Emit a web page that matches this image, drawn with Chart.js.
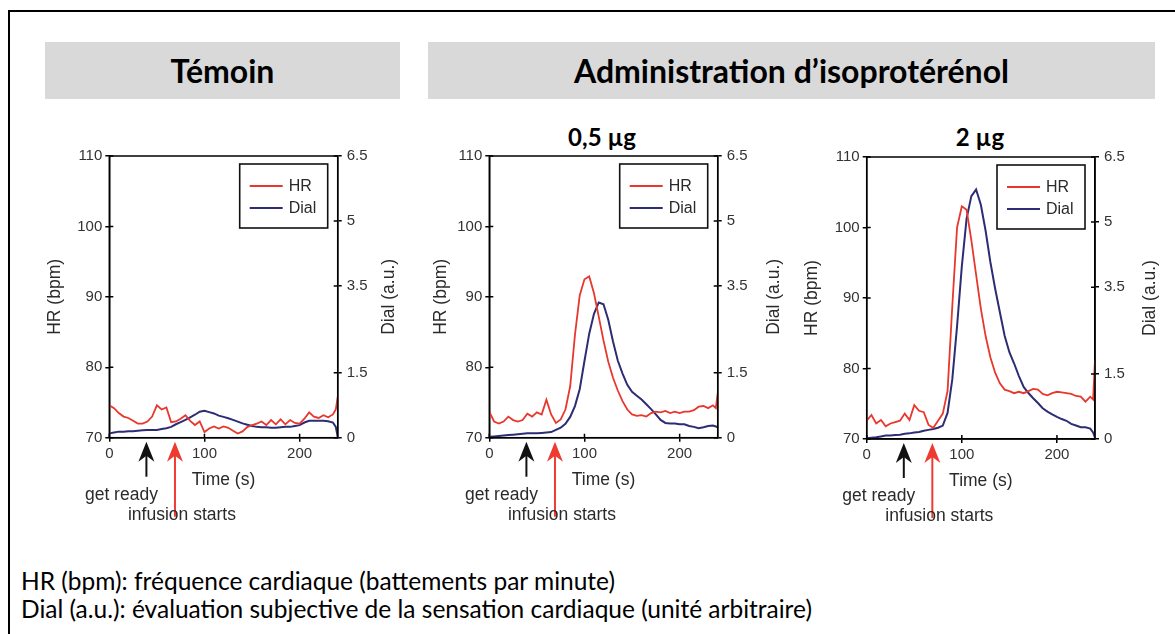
<!DOCTYPE html>
<html><head><meta charset="utf-8">
<script src="https://cdn.jsdelivr.net/npm/chart.js@4.4.1/dist/chart.umd.min.js"></script>
<style>
html,body{margin:0;padding:0;background:#fff;}
body{width:1175px;height:634px;overflow:hidden;position:relative;font-family:'Liberation Sans',Arial,sans-serif;}
#frame{position:absolute;left:8px;top:10px;width:1220px;height:700px;border-left:2px solid #000;border-top:2px solid #000;}
.banner{position:absolute;top:42px;height:57px;background:#d9d9d9;font-family:Lato,'Noto Sans',sans-serif;font-weight:bold;font-size:32px;display:flex;align-items:center;justify-content:center;color:#000;}
.sub{position:absolute;top:124px;font-family:Lato,'Noto Sans',sans-serif;font-weight:bold;font-size:24px;line-height:26px;transform:translateX(-50%);white-space:nowrap;}
.note{position:absolute;left:21px;font-family:Lato,'Noto Sans',sans-serif;font-size:24.5px;line-height:28px;white-space:nowrap;color:#000;}
canvas{position:absolute;}
</style></head>
<body>
<div id="frame"></div>
<div class="banner" style="left:45px;width:355px;">Témoin</div>
<div class="banner" style="left:428px;width:727px;">Administration d’isoprotérénol</div>
<div class="sub" style="left:602px;">0,5 µg</div>
<div class="sub" style="left:980px;">2 µg</div>
<canvas id="c1" width="390" height="395" style="left:30px;top:140px;"></canvas>
<canvas id="c2" width="385" height="395" style="left:415px;top:140px;"></canvas>
<canvas id="c3" width="380" height="395" style="left:795px;top:140px;"></canvas>
<div class="note" style="top:567px;">HR (bpm): fréquence cardiaque (battements par minute)</div>
<div class="note" style="top:595px;">Dial (a.u.): évaluation subjective de la sensation cardiaque (unité arbitraire)</div>
<script>
// ---- data ----
const times = [0,5,10,15,20,25,30,35,40,45,50,55,60,65,70,75,80,85,90,95,100,105,110,115,120,125,130,135,140,145,150,155,160,165,170,175,180,185,190,195,200,205,210,215,220,225,230,235,238,240];

const temoinHR = [74.6,74.2,73.5,73.0,72.8,72.4,72.0,72.0,72.3,73.0,74.6,74.0,74.3,72.2,72.3,72.7,73.2,72.4,71.8,72.3,70.8,71.3,71.6,71.3,71.6,71.4,71.0,70.6,70.9,71.5,71.8,72.0,72.3,71.8,72.5,71.9,72.6,71.9,72.5,72.1,72.0,72.7,73.6,73.0,72.8,73.2,72.9,73.3,74.0,75.8];
const temoinDial = [0.10,0.12,0.14,0.14,0.15,0.15,0.16,0.17,0.18,0.18,0.18,0.20,0.22,0.25,0.31,0.36,0.41,0.47,0.53,0.60,0.62,0.59,0.56,0.51,0.48,0.45,0.41,0.37,0.33,0.30,0.27,0.25,0.24,0.24,0.23,0.23,0.24,0.25,0.25,0.27,0.29,0.35,0.39,0.39,0.39,0.39,0.38,0.35,0.25,0.02];

const dose05HR = [73.7,72.3,72.0,72.3,73.0,72.5,72.3,72.5,73.4,73.0,73.6,73.3,75.4,73.3,72.1,72.6,74.0,77.3,84.6,90.2,92.5,92.9,90.5,87.2,83.8,80.8,78.5,76.7,75.2,74.0,73.3,73.1,73.2,73.0,73.5,73.7,73.6,73.8,73.5,73.7,73.5,73.7,73.7,73.9,74.4,74.5,74.2,74.6,74.2,76.3];
const dose05Dial = [0.02,0.03,0.04,0.05,0.06,0.07,0.08,0.09,0.10,0.10,0.10,0.11,0.12,0.13,0.18,0.23,0.32,0.48,0.73,1.12,1.77,2.40,2.86,3.12,3.08,2.72,2.22,1.78,1.48,1.22,1.06,0.97,0.88,0.77,0.66,0.54,0.41,0.34,0.33,0.33,0.31,0.31,0.27,0.25,0.22,0.24,0.27,0.28,0.26,0.24];

const dose2HR = [72.6,73.4,72.2,72.7,71.8,72.2,72.4,72.6,73.6,72.7,74.8,74.0,73.8,72.0,71.6,72.6,73.6,76.8,88.9,100.0,103.0,102.5,98.2,93.3,88.5,84.6,81.6,79.4,77.9,77.0,76.8,76.5,76.7,76.5,76.8,77.1,77.0,76.4,76.2,76.5,76.7,76.6,76.5,76.4,76.1,76.0,75.3,76.0,75.6,81.2];
const dose2Dial = [0.02,0.03,0.04,0.06,0.08,0.08,0.09,0.10,0.12,0.13,0.15,0.16,0.19,0.21,0.23,0.26,0.31,0.60,1.38,2.60,3.98,5.08,5.60,5.75,5.40,4.80,4.08,3.47,2.92,2.38,2.00,1.74,1.45,1.20,1.06,0.94,0.83,0.71,0.63,0.57,0.51,0.46,0.42,0.35,0.31,0.27,0.27,0.24,0.15,0.03];

const xTicks = [0, 100, 200];
const hrTicks = [70, 80, 90, 100, 110];
const dialTicks = [0, 1.5, 3.5, 5, 6.5];
const seriesLabels = ['HR', 'Dial'];
const xTitle = 'Time (s)';
const hrTitle = 'HR (bpm)';
const dialTitle = 'Dial (a.u.)';
const markerTimes = [39, 69];
const markerLabels = ['get ready', 'infusion starts'];

// ---- styling ----
const RED = '#e8372c', NAVY = '#2c2d74', TXT = '#2a2a2a';
const FONT = "'Liberation Sans', Arial, sans-serif";
const TITLE_SIZE = 17.5, ANNOT_SIZE = 17.5, TICK_SIZE = 15, LEG_SIZE = 16;
Chart.defaults.font.family = FONT;

function drawArrow(ctx, x, yTip, yEnd, color){
  ctx.save();
  ctx.strokeStyle = color; ctx.fillStyle = color; ctx.lineWidth = 2;
  ctx.beginPath(); ctx.moveTo(x, yTip + 12); ctx.lineTo(x, yEnd); ctx.stroke();
  ctx.beginPath();
  ctx.moveTo(x, yTip); ctx.lineTo(x + 8, yTip + 20); ctx.lineTo(x, yTip + 14); ctx.lineTo(x - 8, yTip + 20);
  ctx.closePath(); ctx.fill();
  ctx.restore();
}

const decor = {
  id: 'decor',
  afterDatasetsDraw(chart, args, o){
    const ctx = chart.ctx, a = chart.chartArea;
    const xs = chart.scales.x, yl = chart.scales.y, yr = chart.scales.y1;
    ctx.save();
    ctx.strokeStyle = '#000'; ctx.lineWidth = 1.5;
    ctx.strokeRect(a.left, a.top, a.right - a.left, a.bottom - a.top);
    ctx.beginPath();
    yl.ticks.forEach(t => { const y = yl.getPixelForValue(t.value); ctx.moveTo(a.left, y); ctx.lineTo(a.left + 4, y); });
    yr.ticks.forEach(t => { const y = yr.getPixelForValue(t.value); ctx.moveTo(a.right, y); ctx.lineTo(a.right - 4, y); });
    xs.ticks.forEach(t => { const x = xs.getPixelForValue(t.value); ctx.moveTo(x, a.bottom); ctx.lineTo(x, a.bottom - 4); });
    ctx.stroke();
    // legend box
    const bw = 88, bh = 64, bx = a.right - 10 - bw, by = a.top + 8;
    ctx.fillStyle = '#fff'; ctx.fillRect(bx, by, bw, bh);
    ctx.strokeStyle = '#111'; ctx.lineWidth = 1.6; ctx.strokeRect(bx, by, bw, bh);
    chart.data.datasets.forEach((ds, i) => {
      const ly = by + 22 + i * 22;
      ctx.strokeStyle = ds.borderColor; ctx.lineWidth = 2;
      ctx.beginPath(); ctx.moveTo(bx + 10, ly); ctx.lineTo(bx + 43, ly); ctx.stroke();
      ctx.fillStyle = TXT; ctx.font = LEG_SIZE + 'px ' + FONT; ctx.textAlign = 'left'; ctx.textBaseline = 'middle';
      ctx.fillText(ds.label, bx + 49, ly + 1);
    });
    // right axis title, reading bottom-to-top
    ctx.save();
    ctx.translate(a.right + o.rightTitleOffset, (a.top + a.bottom) / 2);
    ctx.rotate(-Math.PI / 2);
    ctx.fillStyle = TXT; ctx.font = TITLE_SIZE + 'px ' + FONT; ctx.textAlign = 'center'; ctx.textBaseline = 'middle';
    ctx.fillText(dialTitle, 0, 0);
    ctx.restore();
    // event markers
    const gx = xs.getPixelForValue(markerTimes[0]);
    const ix = xs.getPixelForValue(markerTimes[1]);
    drawArrow(ctx, gx, a.bottom + 4, a.bottom + 39, '#111');
    drawArrow(ctx, ix, a.bottom + 4, a.bottom + 79, '#ee3b32');
    ctx.fillStyle = TXT; ctx.font = ANNOT_SIZE + 'px ' + FONT; ctx.textAlign = 'center'; ctx.textBaseline = 'middle';
    ctx.fillText(markerLabels[0], gx - 25, a.bottom + 57);
    ctx.fillText(markerLabels[1], ix + 7, a.bottom + 77);
    ctx.restore();
  }
};

function makeChart(id, hr, dial, g){
  const lh = TITLE_SIZE * 1.2;
  const xAxisBottom = g.xTitleY + lh / 2;
  return new Chart(document.getElementById(id), {
    type: 'line',
    data: {
      datasets: [
        { label: seriesLabels[0], data: times.map((t, i) => ({x: t, y: hr[i]})), borderColor: RED, borderWidth: 1.8, pointRadius: 0, yAxisID: 'y', tension: 0 },
        { label: seriesLabels[1], data: times.map((t, i) => ({x: t, y: dial[i]})), borderColor: NAVY, borderWidth: 2, pointRadius: 0, yAxisID: 'y1', tension: 0 }
      ]
    },
    options: {
      responsive: false, animation: false, devicePixelRatio: 1,
      layout: { padding: { left: 0, right: 0, top: g.plot.t - g.top, bottom: (g.top + g.h) - xAxisBottom } },
      plugins: { legend: { display: false }, tooltip: { enabled: false }, decor: { rightTitleOffset: g.rightTitleX - g.plot.r } },
      scales: {
        x: {
          type: 'linear', min: 0, max: 240,
          afterBuildTicks: s => { s.ticks = xTicks.map(v => ({value: v})); },
          afterFit: s => { s.height = xAxisBottom - g.plot.b; },
          ticks: { font: { size: TICK_SIZE }, color: '#333', padding: 3, maxRotation: 0 },
          grid: { drawOnChartArea: false, tickLength: 4, color: '#000', lineWidth: 1.5 },
          border: { color: '#000', width: 1.5 },
          title: { display: true, text: xTitle, font: { size: TITLE_SIZE }, color: TXT, padding: { top: 0, bottom: 0 } }
        },
        y: {
          position: 'left', min: 70, max: 110,
          afterBuildTicks: s => { s.ticks = hrTicks.map(v => ({value: v})); },
          afterFit: s => { s.width = g.plot.l - g.left; },
          ticks: { font: { size: TICK_SIZE }, color: '#333', padding: 3 },
          grid: { drawOnChartArea: false, tickLength: 4, color: '#000', lineWidth: 1.5 },
          border: { color: '#000', width: 1.5 },
          title: { display: true, text: hrTitle, font: { size: TITLE_SIZE }, color: TXT, padding: { top: g.leftTitleX - g.left - lh / 2, bottom: 0 } }
        },
        y1: {
          position: 'right', min: 0, max: 6.5,
          afterBuildTicks: s => { s.ticks = dialTicks.map(v => ({value: v})); },
          afterFit: s => { s.width = (g.left + g.w) - g.plot.r; },
          ticks: { font: { size: TICK_SIZE }, color: '#333', padding: 5, callback: v => String(v) },
          grid: { drawOnChartArea: false, tickLength: 4, color: '#000', lineWidth: 1.5 },
          border: { color: '#000', width: 1.5 }
        }
      }
    },
    plugins: [decor]
  });
}

makeChart('c1', temoinHR, temoinDial, { left: 30, top: 140, w: 390, h: 395, plot: { l: 109.3, t: 156, r: 337.7, b: 437.7 }, leftTitleX: 55, rightTitleX: 389, xTitleY: 480 });
makeChart('c2', dose05HR, dose05Dial, { left: 415, top: 140, w: 385, h: 395, plot: { l: 489.3, t: 156, r: 717.7, b: 437.7 }, leftTitleX: 441, rightTitleX: 774, xTitleY: 480 });
makeChart('c3', dose2HR, dose2Dial, { left: 795, top: 140, w: 380, h: 395, plot: { l: 866.7, t: 157, r: 1095, b: 439 }, leftTitleX: 812, rightTitleX: 1150, xTitleY: 480.7 });
</script>
</body></html>
